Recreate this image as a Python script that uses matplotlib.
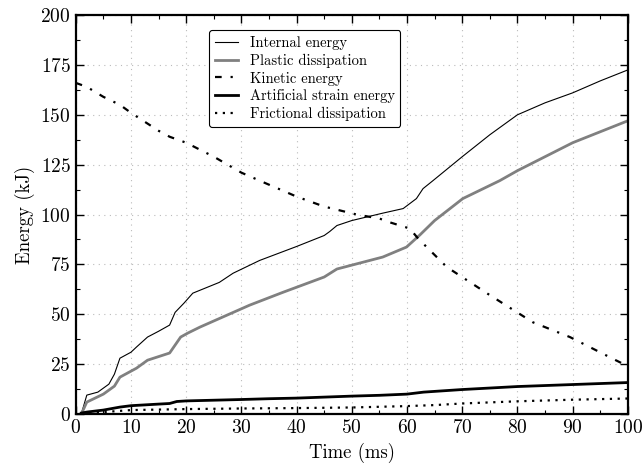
import matplotlib.pyplot as plt
from matplotlib.ticker import MultipleLocator

plt.rcParams["font.family"] = ["cmr10", "DejaVu Serif"]
plt.rcParams["mathtext.fontset"] = "cm"
plt.rcParams["axes.formatter.use_mathtext"] = True

# Internal energy
t_int = [1, 2, 4, 6, 7, 8, 10, 11, 13, 15, 17, 18, 19.6, 21.2, 26, 28.5, 33.3, 40, 45, 46, 47.3,
         50, 55.6, 59.3, 61.7, 62.9, 64.7, 70, 75, 80, 85, 90, 95, 100]
e_int = [0, 9.5, 11, 15, 20, 28, 31, 33.6, 38.6, 41.5, 44.6, 51, 55.6, 60.6, 66, 70.6, 77, 84,
         89.5, 91.5, 94.5, 97, 100.7, 103, 108, 113, 117, 129, 140, 150, 156, 161, 167, 172.5]

# Plastic dissipation
t_pl = [1, 2, 5, 7, 8, 11, 13, 17, 19, 20.3, 22.5, 31.5, 37.5, 45, 47.3, 55.6, 59.9, 62.3,
        65, 70.1, 76.8, 80, 90, 100]
e_pl = [0, 6, 10, 14, 18.5, 23, 27, 30.6, 38.6, 40.6, 43.6, 54.6, 61, 68.7, 72.7, 78.7, 83.7,
        89.7, 97, 108, 117, 122, 136, 147]

# Kinetic energy
t_kin = [0, 2, 5, 8, 10, 15, 17, 20, 25, 30, 33.3, 40, 45, 50.9, 55, 57, 60.5, 62, 67.2, 75,
         82.8, 89.5, 97.8, 100]
e_kin = [166, 164, 159, 155, 151, 142, 139, 136, 129, 121, 117, 109, 104, 100, 98, 96, 93, 88,
         73.7, 59.6, 46, 38.6, 27, 24]

# Artificial strain energy
t_art = [1, 2, 5, 8, 10, 15, 17, 18.3, 20, 30, 35, 40, 50, 55, 60, 63, 70, 80, 90, 100]
e_art = [0.5, 1, 2, 3.5, 4.2, 5, 5.3, 6.3, 6.6, 7.3, 7.7, 8, 9, 9.4, 10, 11, 12.3, 13.8, 14.8, 15.8]

# Frictional dissipation
t_fr = [1, 5, 10, 20, 30, 40, 50, 60, 65, 70, 80, 90, 100]
e_fr = [0, 1, 2, 2.5, 2.8, 3, 3.3, 4, 4.5, 5.3, 6.4, 7.2, 7.8]

fig = plt.figure(figsize=(6.42, 4.70), dpi=100)
ax = fig.add_axes([0.118, 0.119, 0.860, 0.849])

ax.plot(t_int, e_int, color="black", lw=0.8, label="Internal energy")
ax.plot(t_pl, e_pl, color="#808080", lw=2.0, label="Plastic dissipation")
ax.plot(t_kin, e_kin, color="black", lw=1.6, dashes=(3, 4, 1, 4), label="Kinetic energy")
ax.plot(t_art, e_art, color="black", lw=2.0, label="Artificial strain energy")
ax.plot(t_fr, e_fr, color="black", lw=1.6, dashes=(1, 2.5), label="Frictional dissipation")

ax.set_xlim(0, 100)
ax.set_ylim(0, 200)
ax.xaxis.set_major_locator(MultipleLocator(10))
ax.xaxis.set_minor_locator(MultipleLocator(5))
ax.yaxis.set_major_locator(MultipleLocator(25))
ax.yaxis.set_minor_locator(MultipleLocator(12.5))
ax.tick_params(which="both", direction="in", top=True, right=True, labelsize=14)
ax.tick_params(which="major", length=6, width=1)
ax.tick_params(which="minor", length=3, width=0.8)
for s in ax.spines.values():
    s.set_linewidth(1.6)

ax.grid(True, which="major", color="#bbbbbb", ls=(0, (1, 4)), lw=0.8)

ax.set_xlabel("Time (ms)", fontsize=13.5)
ax.set_ylabel("Energy (kJ)", fontsize=13.5)

leg = ax.legend(loc="upper left", bbox_to_anchor=(0.241, 0.962), borderaxespad=0,
                fontsize=10.5, frameon=True, fancybox=True, edgecolor="black",
                handlelength=1.6, handletextpad=0.8, labelspacing=0.25)
leg.get_frame().set_linewidth(0.8)
leg.get_frame().set_alpha(1)

fig.savefig("out.png", dpi=100)
